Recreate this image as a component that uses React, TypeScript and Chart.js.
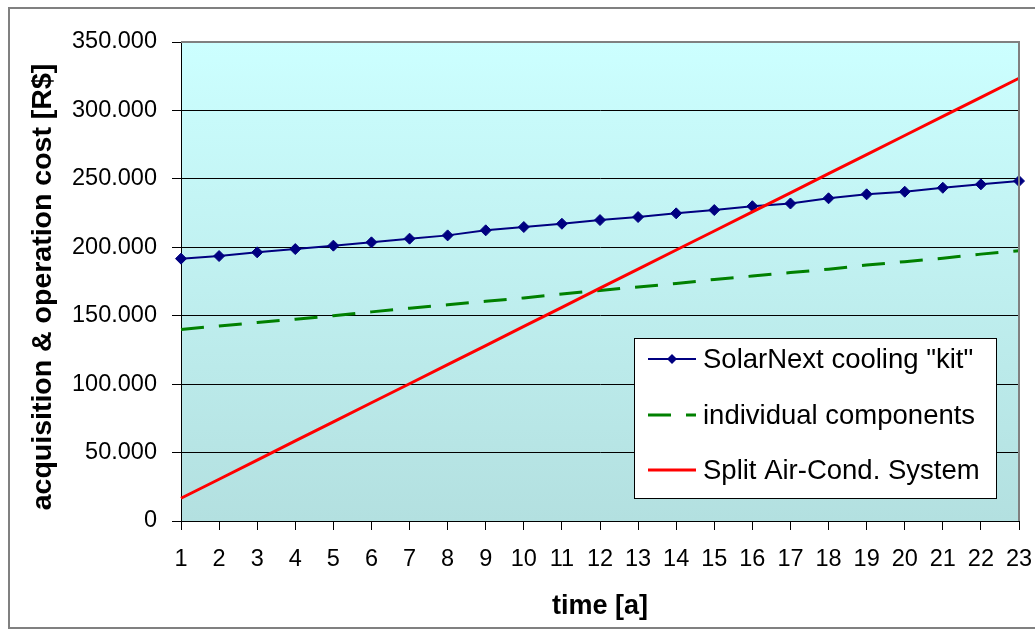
import React, { useEffect, useRef } from 'react';
import { Chart, registerables } from 'chart.js';

Chart.register(...registerables);

const years = ['1', '2', '3', '4', '5', '6', '7', '8', '9', '10', '11', '12', '13', '14', '15', '16', '17', '18', '19', '20', '21', '22', '23'];

const seriesLabels = ['SolarNext cooling "kit"', 'individual components', 'Split Air-Cond. System'];

const solarNextKit = [191700, 193600, 196300, 198700, 201200, 203600, 206300, 208700, 212400, 214800, 217200, 219900, 222100, 224800, 227200, 230000, 232000, 235800, 238700, 240600, 243500, 246000, 248400];

const individualComponents = [140000, 142500, 145000, 147500, 150000, 152800, 155500, 158000, 160500, 163000, 165800, 168500, 171000, 173500, 176500, 179000, 181500, 184000, 187000, 189500, 192000, 195000, 197500];

const splitAirCond = [16600, 30500, 44500, 58500, 72400, 86400, 100300, 114300, 128200, 142200, 156100, 170100, 184000, 198000, 211900, 225900, 239800, 253800, 267700, 281700, 295600, 309600, 323500];

const yMin = 0;
const yMax = 350000;
const yStep = 50000;

const xTitle = 'time [a]';
const yTitle = 'acquisition & operation cost [R$]';

const FONT = '"Liberation Sans", Arial, Helvetica, sans-serif';

const fmt = (v: number) => String(Math.round(v)).replace(/\B(?=(\d{3})+(?!\d))/g, '.');

const decor = {
  id: 'decor',
  beforeDraw(chart: any) {
    const { ctx, chartArea: a, width, height } = chart;
    ctx.save();
    ctx.fillStyle = '#ffffff';
    ctx.fillRect(0, 0, width, height);
    ctx.strokeStyle = '#808080';
    ctx.lineWidth = 2;
    ctx.strokeRect(9, 8, width + 20, height - 10);
    const g = ctx.createLinearGradient(0, a.top, 0, a.bottom);
    g.addColorStop(0, '#CCFFFF');
    g.addColorStop(1, '#B3E0E0');
    ctx.fillStyle = g;
    ctx.fillRect(a.left, a.top, a.right - a.left, a.bottom - a.top);
    ctx.restore();
  },
  afterDraw(chart: any) {
    const { ctx, chartArea: a } = chart;
    ctx.save();
    ctx.strokeStyle = '#808080';
    ctx.lineWidth = 2;
    ctx.beginPath();
    ctx.moveTo(a.left, a.top);
    ctx.lineTo(a.right, a.top);
    ctx.lineTo(a.right, a.bottom);
    ctx.stroke();

    ctx.fillStyle = '#000';
    ctx.font = `bold 27px ${FONT}`;
    ctx.textAlign = 'center';
    ctx.textBaseline = 'alphabetic';
    ctx.fillText(xTitle, (a.left + a.right) / 2, 614);
    ctx.save();
    ctx.translate(51, 287);
    ctx.rotate(-Math.PI / 2);
    ctx.font = `bold 28.5px ${FONT}`;
    ctx.fillText(yTitle, 0, 0);
    ctx.restore();

    const bx = 634.5, by = 338.5, bw = 362, bh = 160;
    ctx.fillStyle = '#ffffff';
    ctx.fillRect(bx, by, bw, bh);
    ctx.strokeStyle = '#000000';
    ctx.lineWidth = 1;
    ctx.strokeRect(bx, by, bw, bh);
    const rows = [359, 415, 470];
    const ds = chart.data.datasets;
    ds.forEach((d: any, i: number) => {
      const y = rows[i];
      ctx.save();
      ctx.strokeStyle = d.borderColor;
      ctx.lineWidth = d.borderWidth;
      ctx.setLineDash(d.borderDash || []);
      ctx.beginPath();
      ctx.moveTo(648, y);
      ctx.lineTo(696, y);
      ctx.stroke();
      ctx.setLineDash([]);
      if (d.pointRadius > 0) {
        ctx.fillStyle = d.borderColor;
        const r = 5;
        ctx.beginPath();
        ctx.moveTo(672, y - r);
        ctx.lineTo(672 + r, y);
        ctx.lineTo(672, y + r);
        ctx.lineTo(672 - r, y);
        ctx.closePath();
        ctx.fill();
      }
      ctx.restore();
      ctx.fillStyle = '#000';
      ctx.font = `27.5px ${FONT}`;
      ctx.textAlign = 'left';
      ctx.textBaseline = 'middle';
      ctx.fillText(d.label, 703, y + 1);
    });
    ctx.restore();
  },
};

export default function App() {
  const ref = useRef<HTMLCanvasElement>(null);

  useEffect(() => {
    if (!ref.current) return;
    Chart.defaults.font.family = FONT;
    const chart = new Chart(ref.current, {
      type: 'line',
      data: {
        labels: years,
        datasets: [
          {
            label: seriesLabels[0],
            data: solarNextKit,
            borderColor: '#000080',
            backgroundColor: '#000080',
            borderWidth: 2,
            pointStyle: 'rectRot',
            pointRadius: 5.5,
            pointBorderWidth: 1,
            pointBackgroundColor: '#000080',
            pointBorderColor: '#000080',
            tension: 0,
            order: 1,
          },
          {
            label: seriesLabels[1],
            data: individualComponents,
            borderColor: '#008000',
            backgroundColor: '#008000',
            borderWidth: 3,
            borderDash: [23, 15],
            pointRadius: 0,
            tension: 0,
            order: 2,
          },
          {
            label: seriesLabels[2],
            data: splitAirCond,
            borderColor: '#FF0000',
            backgroundColor: '#FF0000',
            borderWidth: 3,
            pointRadius: 0,
            tension: 0,
            order: 0,
          },
        ],
      },
      options: {
        responsive: false,
        animation: false,
        layout: { padding: { left: 0, top: 42, right: 16, bottom: 0 } },
        plugins: { legend: { display: false }, tooltip: { enabled: false } },
        scales: {
          x: {
            type: 'category',
            offset: false,
            grid: { display: true, drawOnChartArea: false, drawTicks: true, tickLength: 9, color: '#000', lineWidth: 1 },
            border: { display: true, color: '#000', width: 1 },
            ticks: { font: { size: 23.5 }, color: '#000', padding: 15, maxRotation: 0, autoSkip: false },
            afterFit(s: any) {
              s.height = 109;
              s.paddingLeft = 0;
              s.paddingRight = 0;
            },
          },
          y: {
            min: yMin,
            max: yMax,
            ticks: { stepSize: yStep, font: { size: 23.5 }, color: '#000', padding: 15, callback: (v: any) => fmt(Number(v)) },
            grid: { color: '#000', lineWidth: 1, tickLength: 9 },
            border: { display: true, color: '#000', width: 1 },
            afterFit(s: any) {
              s.width = 181;
              s.paddingTop = 0;
              s.paddingBottom = 0;
            },
          },
        },
      },
      plugins: [decor],
    } as any);
    return () => chart.destroy();
  }, []);

  return (
    <div style={{ position: 'fixed', left: 0, top: 0, width: 1035, height: 630 }}>
      <canvas ref={ref} width={1035} height={630} style={{ display: 'block' }} />
    </div>
  );
}
